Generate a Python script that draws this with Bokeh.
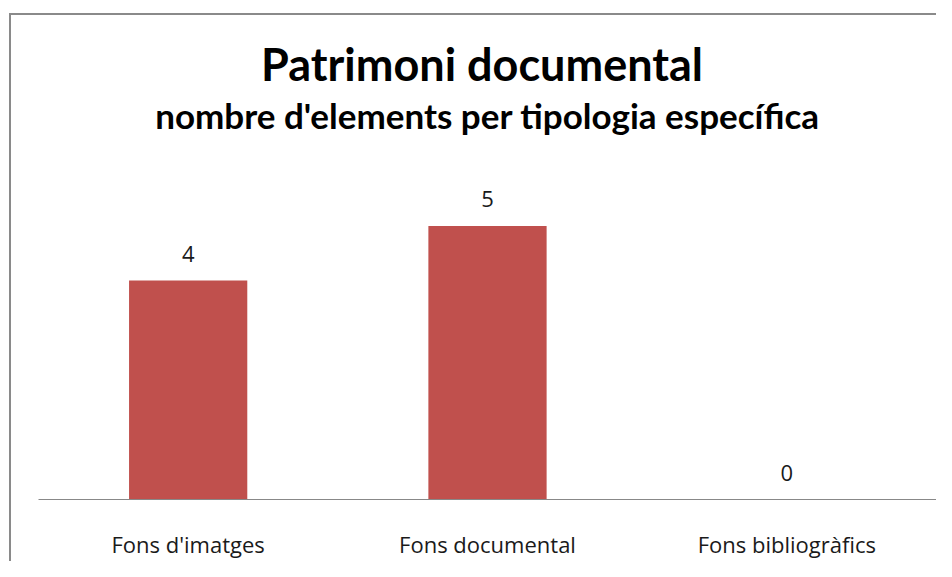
from bokeh.plotting import figure
from bokeh.models import ColumnDataSource, Range1d, Label
from bokeh.core.properties import value
from bokeh.embed import file_html
from bokeh.resources import INLINE

# ---- data ----
categories = ["Fons d'imatges", "Fons documental", "Fons bibliogràfics"]
counts = [4, 5, 0]
count_labels = ["4", "5", "0"]
title_text = "Patrimoni  documental"
subtitle_text = "nombre d'elements per tipologia específica"

BAR_COLOR = "#C0504D"
GRAY = "#888888"
TFONT = "Lato"
LFONT = "Open Sans"

# frame spans y = 0..500 px; 54.83 px per unit
Y_TOP = 500 / 54.83

src = ColumnDataSource(dict(cat=categories, val=counts, lab=count_labels))

p = figure(
    x_range=categories,
    y_range=Range1d(0, Y_TOP),
    width=936, height=561,
    output_backend="svg", toolbar_location=None,
    min_border_left=38, min_border_right=0,
    min_border_top=0, min_border_bottom=61,
)
p.background_fill_color = None
p.border_fill_color = None
p.outline_line_color = None
p.grid.visible = False
p.yaxis.visible = False
p.styles = {
    "background-color": "white",
    "background-image": "linear-gradient(#8a8a8a, #8a8a8a), linear-gradient(#8a8a8a, #8a8a8a)",
    "background-position": "9px 13px, 9px 13px",
    "background-size": "2px 100%, 100% 2px",
    "background-repeat": "no-repeat, no-repeat",
}

p.vbar(x="cat", top="val", width=0.395, source=src, color=BAR_COLOR, line_color=None)

p.text(x="cat", y="val", text="lab", source=src,
       text_align="center", text_baseline="alphabetic", y_offset=-27,
       text_font=value(LFONT), text_font_size="22px", text_color="#1a1a1a")

ax = p.xaxis[0]
ax.axis_line_color = GRAY
ax.axis_line_width = 1
ax.major_tick_line_color = None
ax.minor_tick_line_color = None
ax.major_tick_out = 0
ax.major_tick_in = 0
ax.major_label_standoff = 29
ax.major_label_text_font = LFONT
ax.major_label_text_font_size = "22px"
ax.major_label_text_color = "#1a1a1a"

# chart titles, centred over the categories (synthetic x = 1.5)
p.add_layout(Label(x=1.5, y=Y_TOP, y_offset=-63, text=title_text,
                   text_align="center", text_baseline="alphabetic",
                   text_font=TFONT, text_font_style="bold",
                   text_font_size="45px", text_color="#000000"))
p.add_layout(Label(x=1.5, y=Y_TOP, y_offset=-114, text=subtitle_text,
                   text_align="center", text_baseline="alphabetic",
                   text_font=TFONT, text_font_style="bold",
                   text_font_size="35px", text_color="#000000"))

open("out.html", "w").write(file_html(p, INLINE))
